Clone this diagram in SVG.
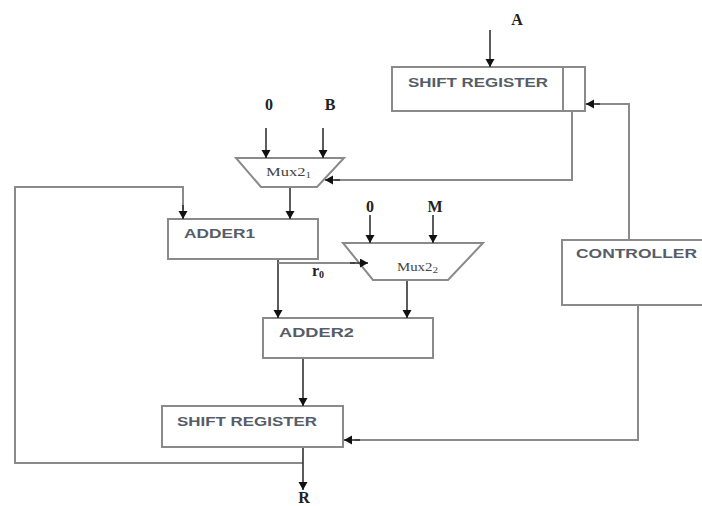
<svg xmlns="http://www.w3.org/2000/svg" width="702" height="506" viewBox="0 0 702 506">
<defs>
<marker id="ah" markerUnits="userSpaceOnUse" markerWidth="10" markerHeight="10" refX="8" refY="4.5" orient="auto">
<path d="M0,0 L8,4.5 L0,9 z" fill="#111"/>
</marker>
<style>
.box{fill:#fff;stroke:#8a8a8a;stroke-width:2}
.ln{fill:none;stroke:#8a8a8a;stroke-width:2}
.ar{fill:none;stroke:#333;stroke-width:1.6;marker-end:url(#ah)}
.bt{font-family:"Liberation Sans",Arial,sans-serif;font-size:12px;font-weight:bold;fill:#565c68}
.lb{font-family:"Liberation Serif","Times New Roman",serif;font-size:16px;font-weight:bold;fill:#222;text-anchor:middle}
.mx{font-family:"Liberation Serif","Times New Roman",serif;font-size:12px;fill:#444}
</style>
</defs>
<rect width="702" height="506" fill="#fff"/>
<g id="shiftreg1">
<rect class="box" x="392" y="67" width="193" height="44"/>
<line class="ln" x1="563" y1="67" x2="563" y2="111"/>
<text class="bt" x="408" y="87" textLength="140" lengthAdjust="spacingAndGlyphs">SHIFT REGISTER</text>
</g>
<g id="mux1">
<polygon class="box" points="236,158 344,158 317,187 261,187"/>
<text class="mx" x="266" y="176" textLength="45" lengthAdjust="spacingAndGlyphs">Mux2<tspan font-size="8" dy="2">1</tspan></text>
</g>
<g id="adder1">
<rect class="box" x="168" y="219" width="150" height="40"/>
<text class="bt" x="184" y="238" textLength="71" lengthAdjust="spacingAndGlyphs">ADDER1</text>
</g>
<g id="mux2">
<polygon class="box" points="343,243 483,243 448,280 373,280"/>
<text class="mx" x="397" y="271" font-size="13" textLength="41" lengthAdjust="spacingAndGlyphs">Mux2<tspan font-size="9" dy="2">2</tspan></text>
</g>
<g id="adder2">
<rect class="box" x="263" y="318" width="170" height="40"/>
<text class="bt" x="279" y="337" textLength="75" lengthAdjust="spacingAndGlyphs">ADDER2</text>
</g>
<g id="shiftreg2">
<rect class="box" x="162" y="406" width="181" height="41"/>
<text class="bt" x="177" y="426" textLength="140" lengthAdjust="spacingAndGlyphs">SHIFT REGISTER</text>
</g>
<g id="controller">
<rect class="box" x="562" y="240" width="150" height="65"/>
<text class="bt" x="576" y="258" textLength="121" lengthAdjust="spacingAndGlyphs">CONTROLLER</text>
</g>
<g id="connectors">
<path class="ar" d="M490,30 V67"/>
<path class="ar" d="M266,128 V158"/>
<path class="ar" d="M323,128 V158"/>
<path class="ln" d="M572,112 V180 H335"/>
<path class="ar" d="M340,180 H325"/>
<path class="ln" d="M629,240 V104 H595"/>
<path class="ar" d="M600,104 H586"/>
<path class="ar" d="M290,188 V219"/>
<path class="ln" d="M303,463 H15 V187 H183 V210"/>
<path class="ar" d="M183,205 V219"/>
<path class="ar" d="M278,260 V318"/>
<path class="ln" d="M278,263 H355"/>
<path class="ar" d="M350,263 H368"/>
<path class="ar" d="M370,215 V243"/>
<path class="ar" d="M433,215 V243"/>
<path class="ar" d="M407,281 V318"/>
<path class="ar" d="M303,359 V406"/>
<path class="ln" d="M638,306 V440 H355"/>
<path class="ar" d="M360,440 H344"/>
<path class="ar" d="M303,448 V490"/>
</g>
<g id="labels">
<text class="lb" x="517" y="25">A</text>
<text class="lb" x="269" y="110">0</text>
<text class="lb" x="330" y="110">B</text>
<text class="lb" x="370" y="212">0</text>
<text class="lb" x="435" y="212">M</text>
<text class="lb" x="318" y="276">r<tspan font-size="10" dy="2">0</tspan></text>
<text class="lb" x="304" y="503">R</text>
</g>
</svg>
